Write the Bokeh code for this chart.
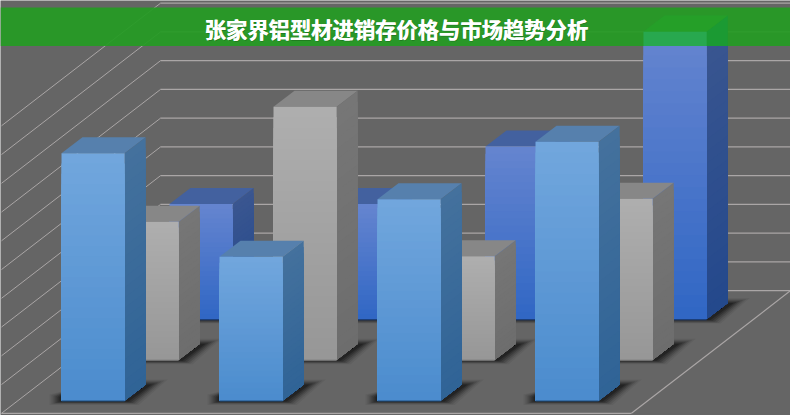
from bokeh.plotting import figure
from bokeh.embed import file_html
from bokeh.resources import INLINE
from bokeh.core.properties import value

# ---- data (PowerPoint style 3-series, 4-category chart) ----
categories = ["1", "2", "3", "4"]
series_front = [4.3, 2.5, 3.5, 4.5]
series_middle = [2.4, 4.4, 1.8, 2.8]
series_back = [2.0, 2.0, 3.0, 5.0]
grid_values = [0, 0.5, 1, 1.5, 2, 2.5, 3, 3.5, 4, 4.5, 5]
title = "张家界铝型材进销存价格与市场趋势分析"

# ---- projection: value/category space to data units (1 unit = cat step / 1 value) ----
UX, UY = 158.0, 57.5          # pixels per category, pixels per value
X0, Y0 = 61.0, 400.0          # pixel position of category 0, value 0, front row
W = 63.2 / UX                 # bar width
DX, DY = 21.0 / UX, 16.0 / UY # bar depth
SX, SY = 54.0 / UX, 40.7 / UY # offset between rows


def xu(px):
    return (px - X0) / UX


def yu(py):
    return (Y0 - py) / UY


WALL_L, WALL_R, WALL_BASE = xu(160), xu(790), yu(290.2)
FLOOR_DX, FLOOR_DY = 159.0 / UX, 122.6 / UY
BAND_T, BAND_B = yu(7), yu(45.6)

p = figure(width=790, height=415, output_backend="svg", toolbar_location=None,
           x_range=(xu(0), xu(790)), y_range=(yu(415), yu(0)),
           min_border=0, min_border_left=0, min_border_right=0,
           min_border_top=0, min_border_bottom=0, outline_line_color=None,
           background_fill_color="#656565", border_fill_color="#656565")
p.axis.visible = False
p.grid.visible = False

# walls
GRID = "#aaa6a6"
for v in grid_values:
    y = WALL_BASE + v
    p.segment([WALL_L], [y], [WALL_R], [y], line_color=GRID, line_width=1.2)
    p.segment([WALL_L], [y], [WALL_L - FLOOR_DX], [y - FLOOR_DY], line_color=GRID, line_width=1)
front_y = WALL_BASE - FLOOR_DY
p.segment([WALL_L - FLOOR_DX], [front_y], [WALL_R - FLOOR_DX], [front_y], line_color=GRID, line_width=1.2)
p.segment([WALL_R - FLOOR_DX], [front_y], [WALL_R], [WALL_BASE], line_color=GRID, line_width=1.2)


def mix(a, b, t):
    ca = [int(a[i:i + 2], 16) for i in (1, 3, 5)]
    cb = [int(b[i:i + 2], 16) for i in (1, 3, 5)]
    return "#%02x%02x%02x" % tuple(round(u + (w - u) * t) for u, w in zip(ca, cb))


def draw_row(values, row, pal):
    sx, sy = SX * row, SY * row
    N = 24
    # shadows, stacked to look blurred
    for e, a in [(10, .06), (8, .09), (6, .13), (4, .17), (2, .21), (0, .26)]:
        xs, ys = [], []
        for i, v in enumerate(values):
            x0, x1 = i + sx, i + sx + W
            b = sy
            ex, ey = (e + 2) / UX, e / UY
            xs.append([x0 - ex, x0, x1 + DX, x1 + DX + (6 + e * 1.6) / UX, x1 + (4 + e) / UX, x0 - ex])
            ys.append([b + (3 + e * .3) / UY, b + (6 + e * .3) / UY, b + DY + ey * .5, b + DY + ey * .5,
                       b - ey * .35 - 1 / UY, b - ey * .35 - 1 / UY])
        p.patches(xs, ys, fill_color="#000000", fill_alpha=a, line_color=None)
    # bars
    xs, ys, cs = [], [], []
    for i, v in enumerate(values):
        x0, x1 = i + sx, i + sx + W
        b, t = sy, sy + v
        # top face
        xs.append([x0, x1, x1 + DX, x0 + DX])
        ys.append([t, t, t + DY, t + DY])
        cs.append(pal["top"])
        # side and front, painted from the top down so that the strips have no seams
        for k in range(N):
            f = k / N
            yk = t - (t - b) * f
            xs.append([x1, x1 + DX, x1 + DX, x1])
            ys.append([yk, yk + DY, b + DY, b])
            cs.append(mix(pal["side_t"], pal["side_b"], f))
        for k in range(N):
            f = k / N
            yk = t - (t - b) * f
            xs.append([x0, x1, x1, x0])
            ys.append([yk, yk, b, b])
            cs.append(mix(pal["front_t"], pal["front_b"], f))
    p.patches(xs, ys, fill_color=cs, line_color=None)
    bx0 = [i + sx for i in range(len(values))]
    bx1 = [i + sx + W for i in range(len(values))]
    p.segment(bx0, [sy - 0.5 / UY] * len(values), bx1, [sy - 0.5 / UY] * len(values),
              line_color=pal["edge"], line_width=1.2)


draw_row(series_back, 2, dict(top="#43619f", side_t="#3a5690", side_b="#23488c",
                              front_t="#6484cf", front_b="#2f66c4", edge="#1c3f7a"))
draw_row(series_middle, 1, dict(top="#878787", side_t="#767676", side_b="#6d6d6d",
                                front_t="#aeaeae", front_b="#969696", edge="#6f6f6f"))
draw_row(series_front, 0, dict(top="#5680ad", side_t="#44719d", side_b="#2f6396",
                               front_t="#71a6dd", front_b="#4a8bcd", edge="#1f4f80"))

# title band
p.quad(left=[xu(0)], right=[xu(790)], top=[BAND_T], bottom=[BAND_B],
       fill_color="#259b24", fill_alpha=0.93, line_color=None)

# the back row shows through the band where a bar rises into it
sx, sy = SX * 2, SY * 2
gxs, gys, gcs = [], [], []
for i, v in enumerate(series_back):
    x0, x1 = i + sx, i + sx + W
    t = sy + v
    if t + DY <= BAND_B:
        continue
    low = max(BAND_B, sy)
    gxs.append([x1, x1 + DX, x1 + DX, x1])
    gys.append([t, min(t + DY, BAND_T), low, low])
    gcs.append("#1b9a33")
    gxs.append([x0, x1, x1, x0])
    gys.append([t, t, low, low])
    gcs.append("#28a84f")
    gxs.append([x0, x1, x1 + DX, x0 + DX])
    gys.append([t, t, t + DY, t + DY])
    gcs.append("#259f28")
p.patches(gxs, gys, fill_color=gcs, line_color=None)

# title text, with a dark soft edge and a doubled face for the heavy look
p.text([xu(396.6)], [yu(28.8)], text=[title], text_color="#1d6a1c", text_alpha=0.6,
       text_font=value("Noto Sans CJK SC"), text_font_style="bold", text_font_size="21.3px",
       text_align="center", text_baseline="middle")
for dx in (-0.25, 0.25):
    p.text([xu(396 + dx)], [yu(28)], text=[title], text_color="#ffffff",
           text_font=value("Noto Sans CJK SC"), text_font_style="bold", text_font_size="21.3px",
           text_align="center", text_baseline="middle")

open("out.html", "w").write(file_html(p, INLINE))
